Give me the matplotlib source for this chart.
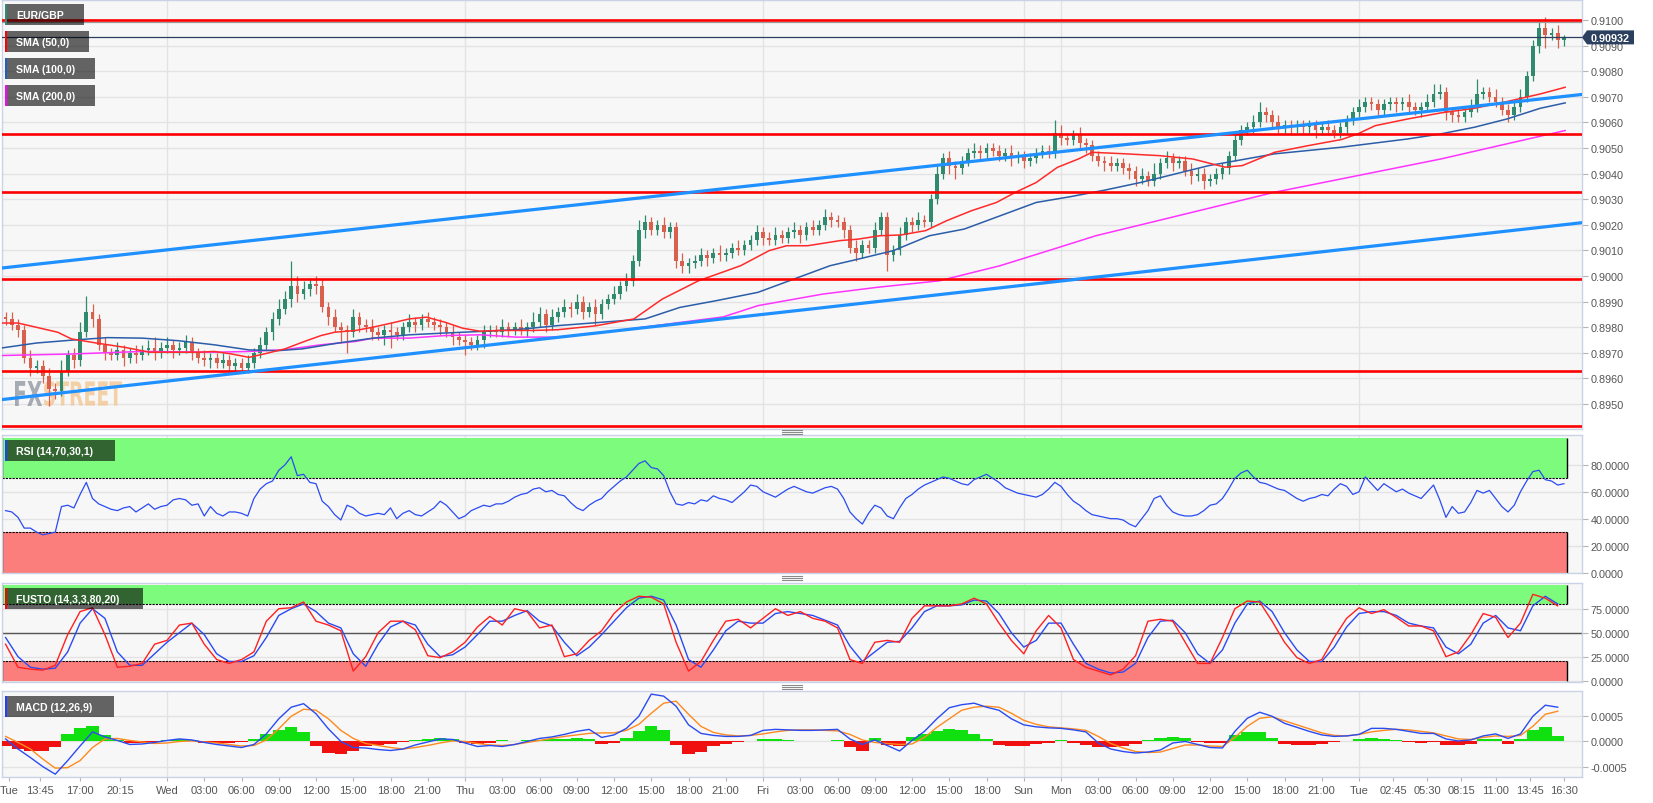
"""
EUR/GBP 15m style chart with SMA, RSI, FUSTO and MACD panels
"""
import matplotlib
matplotlib.use("Agg")
import matplotlib.pyplot as plt
from matplotlib.patches import Rectangle, Polygon, PathPatch
from matplotlib.textpath import TextPath
from matplotlib.font_manager import FontProperties
from matplotlib.transforms import Affine2D
import numpy as np

plt.rcParams["font.family"] = ["Liberation Sans", "DejaVu Sans"]
plt.rcParams["axes.unicode_minus"] = False

W, H = 1653, 804
PX_PER_H = 12.417          # pixels per trading hour
X_OF_T0 = -131             # pixel x of t = 0 (Tue 00:00)
T_LEFT = (2 - X_OF_T0) / PX_PER_H
T_RIGHT = (1582 - X_OF_T0) / PX_PER_H

# ============================================================
# data  (t = trading hours since first Tue 00:00, weekend squeezed)
# ============================================================
# 30-min candles from t = 11.0, prices in pips above 0.8900
first_open = 84
closes = [83, 81, 79, 68, 64, 65, 61, 56, 55, 63,
          69, 67, 78, 86, 83, 73, 70, 69, 71, 68,
          70, 69, 71, 72, 70, 72, 73, 71, 72, 74,
          70, 68, 67, 68, 66, 67, 65, 66, 64, 66,
          70, 73, 78, 83, 87, 91, 96, 93, 95, 97,
          96, 88, 84, 80, 79, 78, 84, 81, 80, 78,
          77, 79, 78, 77, 80, 82, 81, 83, 82, 81,
          80, 78, 76, 75, 74, 73, 75, 78, 79, 78,
          80, 79, 80, 79, 80, 82, 85, 81, 84, 86,
          88, 87, 90, 86, 88, 85, 89, 91, 93, 96,
          98, 106, 118, 121, 118, 120, 117, 119, 106, 104,
          105, 106, 108, 107, 109, 108, 109, 111, 110, 112,
          114, 117, 115, 114, 116, 115, 117, 118, 116, 119,
          118, 120, 123, 122, 121, 118, 111, 109, 112, 111,
          118, 123, 108, 110, 116, 121, 120, 122, 121, 130,
          140, 146, 143, 142, 145, 148, 149, 148, 150, 149,
          147, 148, 146, 147, 145, 146, 148, 149, 148, 156,
          154, 153, 155, 152, 151, 147, 145, 144, 143, 144,
          142, 141, 138, 139, 137, 140, 144, 146, 144, 145,
          141, 139, 140, 137, 138, 140, 142, 147, 153, 157,
          158, 160, 164, 163, 160, 158, 159, 158, 159, 158,
          159, 157, 158, 157, 156, 158, 161, 164, 166, 168,
          167, 165, 167, 168, 167, 168, 166, 165, 166, 168,
          171, 172, 164, 163, 162, 164, 166, 171, 172, 170,
          168, 165, 163, 166, 170, 178, 190, 197, 194, 195,
          192, 193.2]
wick_up = [2, 3, 2, 2, 3, 2, 2, 3, 2, 4,
           2, 3, 4, 6, 3, 2, 3, 2, 3, 2,
           2, 3, 2, 3, 4, 2, 3, 2, 2, 3,
           2, 2, 3, 2, 2, 3, 2, 2, 2, 3,
           2, 3, 2, 3, 4, 3, 10, 4, 3, 2,
           3, 3, 2, 3, 2, 2, 3, 2, 2, 3,
           2, 2, 3, 2, 2, 3, 2, 2, 3, 2,
           2, 2, 3, 2, 2, 2, 2, 3, 2, 2,
           3, 2, 2, 3, 2, 4, 3, 2, 3, 2,
           3, 2, 3, 2, 2, 3, 2, 2, 3, 2,
           3, 2, 4, 3, 2, 2, 3, 2, 2, 3,
           2, 2, 3, 2, 2, 3, 2, 2, 3, 2,
           2, 3, 2, 2, 3, 2, 2, 3, 2, 2,
           3, 2, 3, 2, 2, 2, 2, 3, 2, 2,
           3, 2, 2, 2, 3, 2, 2, 3, 2, 2,
           3, 2, 3, 2, 2, 2, 3, 2, 2, 2,
           2, 2, 3, 2, 2, 2, 2, 2, 2, 5,
           3, 2, 2, 3, 2, 2, 2, 2, 3, 2,
           2, 2, 2, 3, 2, 4, 2, 3, 2, 2,
           2, 3, 2, 2, 2, 2, 2, 2, 3, 2,
           2, 3, 4, 2, 2, 3, 2, 2, 2, 2,
           2, 2, 2, 3, 2, 2, 2, 2, 3, 2,
           2, 2, 2, 2, 2, 2, 3, 2, 2, 3,
           4, 3, 2, 2, 3, 2, 3, 6, 2, 2,
           3, 2, 2, 2, 3, 2, 2, 3, 4, 2,
           3, 1]
wick_dn = [2, 2, 3, 2, 3, 2, 3, 7, 3, 2,
           2, 3, 2, 2, 3, 2, 3, 2, 2, 3,
           2, 3, 2, 2, 3, 2, 2, 3, 2, 2,
           3, 2, 2, 3, 2, 2, 3, 2, 2, 2,
           2, 2, 2, 3, 2, 2, 3, 3, 2, 3,
           3, 2, 3, 2, 5, 8, 2, 3, 2, 3,
           2, 4, 6, 2, 2, 2, 3, 2, 2, 2,
           3, 2, 3, 2, 5, 2, 2, 3, 2, 2,
           2, 3, 2, 2, 3, 2, 2, 3, 2, 2,
           2, 3, 2, 3, 2, 4, 2, 2, 2, 2,
           2, 2, 2, 3, 2, 2, 2, 2, 3, 3,
           3, 2, 2, 3, 2, 2, 2, 2, 2, 2,
           2, 2, 3, 2, 2, 2, 2, 2, 3, 2,
           2, 2, 2, 3, 2, 3, 2, 3, 2, 2,
           2, 2, 6, 2, 2, 2, 3, 2, 2, 2,
           2, 2, 3, 4, 2, 2, 2, 3, 2, 2,
           2, 2, 3, 2, 3, 2, 2, 2, 2, 2,
           3, 2, 2, 2, 3, 2, 2, 3, 2, 2,
           2, 3, 3, 2, 2, 2, 2, 2, 3, 2,
           2, 3, 2, 3, 2, 2, 2, 2, 2, 2,
           2, 2, 2, 3, 2, 2, 2, 3, 2, 2,
           2, 3, 2, 2, 2, 2, 2, 2, 2, 2,
           2, 2, 2, 2, 3, 2, 2, 2, 3, 2,
           2, 2, 3, 3, 2, 2, 2, 2, 2, 2,
           2, 2, 3, 2, 2, 2, 2, 3, 5, 2,
           3, 2]
last_price = 0.90932
session_high = 0.90991

# moving averages (pips above 0.8900), sampled along the curve
sma50_t = [10.6, 12.0, 15.2, 16.3, 18.3, 20.6, 22.6, 24.3, 26.6, 27.8, 29.2, 30.6,
           31.8, 33.5, 34.9, 36.4, 37.5, 39.2, 40.6, 42.1, 43.5, 44.9, 46.4, 47.8,
           49.2, 50.7, 53.5, 55.5, 58.5, 61.6, 63.9, 66.8, 70.2, 72.5, 73.9, 75.6,
           78.2, 79.7, 81.4, 83.1, 85.1, 86.8, 88.8, 90.8, 92.3, 94.0, 95.7, 97.4,
           98.5, 101.2, 103.9, 106.6, 109.2, 110.6, 113.2, 115.9, 118.6, 119.9,
           121.3, 123.9, 126.6, 129.3, 131.9, 134.6, 136.6]
sma50_v = [81.6, 81.6, 78, 75.4, 73.8, 72.1, 70.2, 70.2, 70.2, 70.5, 69.5, 68.2,
           69.5, 71.5, 74.1, 76.7, 78, 78.7, 80, 81.6, 83.2, 83.9, 81.9, 79.6,
           78.4, 78.7, 78.7, 79, 80.5, 83.2, 91, 98.1, 104, 109.9, 111.8, 111.8,
           113.8, 114.4, 115.7, 116, 117.7, 121.6, 125.5, 128.7, 132.6, 136.5, 142.4, 145.7,
           148.3, 147.7, 147, 145.7, 142.5, 143.1, 148.3, 150.9, 153.3, 155.5,
           158.7, 161.3, 163.7, 165.5, 168.1, 171.1, 173.7]
sma100_t = [10.6, 13.5, 16.3, 19.2, 22.0, 24.9, 27.8, 30.6, 32.9, 34.9, 37.8, 40.6,
            43.5, 46.4, 49.2, 52.1, 55.5, 62.5, 65.3, 68.2, 71.6, 74.5, 77.4, 79.7,
            82.5, 85.4, 88.2, 91.1, 94.0, 96.8, 99.5, 102.5, 107.9, 113.2, 118.6,
            123.9, 126.6, 129.3, 131.9, 134.6, 136.6]
sma100_v = [71.8, 73.8, 74.9, 75.9, 75.7, 74.7, 73.1, 71.1, 70.8, 71.5, 73.8, 75.7,
            77, 77.7, 78.3, 79, 80.6, 83.2, 87.7, 90.3, 93.6, 98.8, 104, 106.6,
            109.9, 115.7, 118.3, 123.5, 128.7, 131, 133.5, 136.6, 143.1, 147.7, 150.3,
            153.5, 155.5, 158.1, 161.3, 165.5, 167.6]
sma200_t = [10.6, 16.3, 22.0, 27.8, 30.6, 33.5, 36.4, 39.2, 40.6, 43.5, 46.4, 49.2,
            52.1, 55.5, 60.0, 64.0, 68.8, 71.6, 76.8, 81.1, 86.2, 91.1, 95.4, 98.8,
            104.4, 113.2, 119.9, 126.6, 131.9, 136.6]
sma200_v = [68.9, 69.5, 70.5, 70.2, 70.5, 71.2, 73.1, 74.4, 75.7, 75.7, 76.7, 77,
            76.1, 76.1, 78.5, 81, 84, 88.4, 92.9, 95.5, 98.1, 104, 110.5, 115.7,
            122.3, 132.7, 139.2, 145.7, 151.6, 156.8]

# horizontal levels and trend channel
levels = [0.9100, 0.90556, 0.90327, 0.89988, 0.8963, 0.89415]
trend_t = [T_LEFT, T_RIGHT]
trend_upper = [0.90031, 0.90709]
trend_lower = [0.89517, 0.90208]

# RSI (14), same 30-min grid as the candles
rsi = [46, 45, 41, 33, 33, 30, 28, 29, 30, 49,
       50, 48, 58, 67, 55, 51, 49, 47, 46, 48,
       49, 45, 48, 51, 47, 49, 50, 54, 55, 54,
       50, 51, 42, 49, 44, 42, 45, 45, 44, 42,
       55, 62, 66, 68, 76, 80, 86, 72, 73, 67,
       66, 53, 49, 43, 39, 50, 48, 44, 42, 43,
       44, 43, 48, 40, 44, 46, 43, 42, 45, 48,
       53, 50, 45, 40, 42, 46, 48, 50, 49, 51,
       51, 53, 56, 58, 59, 62, 63, 60, 61, 58,
       57, 52, 48, 46, 50, 53, 55, 60, 64, 68,
       71, 76, 81, 83, 78, 77, 72, 60, 51, 50,
       52, 51, 54, 53, 57, 55, 54, 52, 56, 60,
       65, 64, 60, 58, 56, 59, 62, 64, 62, 60,
       59, 61, 63, 64, 62, 55, 45, 40, 36, 44,
       50, 48, 42, 40, 48, 55, 58, 62, 65, 67,
       69, 71, 70, 68, 66, 65, 69, 71, 73, 70,
       67, 63, 61, 59, 58, 57, 56, 58, 62, 67,
       64, 58, 53, 50, 46, 43, 42, 41, 40, 40,
       39, 36, 34, 40, 46, 55, 57, 50, 45, 43,
       42, 42, 43, 46, 50, 51, 55, 62, 70, 74,
       76, 71, 67, 66, 64, 62, 61, 58, 55, 53,
       55, 56, 58, 57, 62, 66, 64, 58, 60, 71,
       66, 61, 66, 63, 60, 62, 59, 57, 55, 60,
       65, 54, 41, 49, 44, 45, 52, 61, 59, 61,
       55, 49, 45, 50, 60, 68, 75, 76, 69, 68,
       65, 66]

# hourly indicator readings, t = 11 ... 136
fusto_k = [38, 14, 12, 11, 16, 48, 72, 76, 48, 14,
           15, 18, 38, 42, 58, 60, 38, 22, 18, 22,
           30, 62, 75, 76, 82, 62, 58, 52, 10, 25,
           50, 62, 62, 53, 26, 24, 30, 40, 56, 67,
           58, 75, 72, 55, 58, 25, 28, 42, 52, 70,
           82, 88, 87, 80, 40, 10, 20, 42, 62, 64,
           55, 65, 75, 68, 72, 65, 62, 55, 22, 18,
           40, 42, 40, 65, 78, 78, 78, 80, 86, 80,
           60, 42, 28, 52, 68, 55, 22, 14, 10, 6,
           12, 26, 62, 64, 62, 40, 18, 18, 45, 75,
           83, 82, 62, 40, 24, 18, 22, 45, 65, 76,
           70, 74, 66, 57, 57, 52, 25, 30, 48, 70,
           66, 45, 60, 90, 86, 78]
fusto_d = [45, 25, 14, 12, 13, 30, 60, 75, 65, 30,
           16, 16, 28, 40, 50, 60, 48, 28, 20, 20,
           26, 45, 68, 75, 80, 72, 60, 55, 28, 15,
           38, 56, 62, 58, 38, 25, 27, 35, 48, 62,
           62, 68, 73, 62, 57, 40, 26, 35, 48, 62,
           76, 86, 88, 84, 58, 22, 14, 32, 52, 62,
           60, 60, 70, 72, 70, 68, 63, 58, 36, 20,
           30, 40, 41, 55, 72, 78, 78, 79, 84, 83,
           70, 50, 35, 42, 60, 60, 38, 18, 12, 8,
           9, 18, 45, 62, 63, 50, 28, 18, 32, 60,
           80, 83, 72, 50, 32, 20, 20, 35, 56, 70,
           72, 72, 68, 60, 57, 55, 35, 28, 38, 60,
           68, 55, 52, 78, 88, 80]
# MACD values in units of 1e-4
macd = [0.5, -1.5, -3.2, -5.0, -6.5, -3.8, -0.9, 1.9, 0.9, 0.2,
        -0.6, -0.5, -0.2, 0.2, 0.5, 0.3, -0.2, -0.6, -0.9, -1.2,
        -0.6, 1.5, 4.5, 6.8, 7.5, 5.5, 2.5, 0.0, -1.2, -1.3,
        -1.6, -1.8, -1.5, -0.7, -0.1, 0.5, 0.4, -0.3, -1.0, -0.8,
        -1.0, -0.6, 0.0, 0.6, 0.9, 1.4, 2.0, 2.4, 0.8, 1.3,
        2.6, 5.0, 9.4, 9.0, 7.0, 3.3, 1.6, 1.2, 1.0, 1.0,
        1.2, 2.2, 2.4, 2.3, 2.2, 2.2, 2.3, 2.4, 0.5, -0.6,
        0.3, -0.8, -1.9, 0.2, 2.0, 4.5, 6.7, 7.3, 7.6, 6.8,
        6.2, 4.5, 3.3, 2.9, 2.7, 2.6, 2.3, 1.9, -0.3, -1.5,
        -2.0, -2.3, -2.1, -1.7, -0.3, 0.0, -0.6, -1.2, -1.3, 2.0,
        4.6, 5.8, 5.0, 3.6, 2.8, 2.0, 1.3, 1.0, 1.1, 1.4,
        2.6, 2.6, 2.4, 2.0, 1.6, 1.6, 0.5, 0.1, 0.3, 1.1,
        1.5, 0.6, 1.5, 5.0, 7.2, 6.8]
signal = [1.0, -0.2, -1.5, -3.5, -5.3, -5.2, -3.8, -1.2, 0.5, 0.6,
          0.2, -0.1, -0.4, -0.3, 0.0, 0.1, -0.1, -0.3, -0.6, -0.9,
          -0.8, 0.3, 2.5, 5.0, 6.4, 6.2, 4.5, 2.2, 0.6, -0.4,
          -0.8, -1.2, -1.5, -1.2, -0.8, -0.3, 0.1, 0.0, -0.4, -0.7,
          -0.8, -0.6, -0.2, 0.2, 0.6, 1.0, 1.3, 1.6, 1.7, 1.7,
          2.2, 3.4, 5.6, 7.6, 8.0, 5.4, 3.0, 1.8, 1.3, 1.1,
          1.2, 1.5, 1.9, 2.2, 2.3, 2.3, 2.2, 2.1, 1.4, 0.3,
          -0.2, -0.4, -0.6, -0.5, 0.8, 2.8, 4.5, 6.2, 6.8, 7.0,
          6.8, 5.6, 4.2, 3.4, 2.9, 2.7, 2.5, 2.2, 1.0, -0.4,
          -1.3, -2.0, -2.2, -2.1, -1.4, -0.7, -0.7, -0.9, -1.0, 0.8,
          3.0, 4.6, 4.9, 4.1, 3.3, 2.5, 1.7, 1.2, 1.1, 1.4,
          1.9, 2.2, 2.4, 2.3, 2.0, 1.7, 1.1, 0.5, 0.4, 0.8,
          1.1, 1.0, 1.2, 3.0, 5.4, 6.0]
hist = [-0.9, -1.5, -1.9, -1.8, -1.2, 1.5, 2.6, 3.0, 1.2, 0.3,
        -0.3, -0.4, -0.2, 0.3, 0.4, 0.2, -0.3, -0.4, -0.4, -0.2,
        0.5, 1.5, 2.3, 2.8, 1.8, -0.9, -2.2, -2.5, -1.8, -0.9,
        -0.7, -0.6, -0.2, 0.3, 0.5, 0.6, 0.4, -0.4, -0.6, -0.3,
        0.2, 0.1, 0.2, 0.3, 0.4, 0.5, 0.6, 0.5, -0.5, -0.3,
        0.6, 2.0, 3.0, 2.2, -0.8, -2.4, -2.0, -1.0, -0.5, -0.2,
        0.0, 0.4, 0.5, 0.3, 0.1, 0.0, 0.1, 0.2, -1.2, -1.8,
        0.6, -0.8, -1.0, 0.8, 1.5, 2.0, 2.4, 2.2, 1.4, 0.5,
        -0.8, -1.0, -1.0, -0.6, -0.3, 0.2, -0.3, -0.8, -1.2, -1.2,
        -0.9, -0.5, 0.3, 0.6, 0.8, 0.6, -0.2, -0.3, -0.3, 1.2,
        1.9, 1.8, 0.6, -0.6, -0.7, -0.7, -0.5, -0.2, 0.1, 0.5,
        0.7, 0.5, 0.2, -0.2, -0.3, -0.1, -0.7, -0.8, -0.5, 0.4,
        0.5, -0.5, 0.5, 2.2, 2.8, 1.0]

# x axis labels
tick_t = [11.3, 13.75, 17, 20.25, 24, 27, 30, 33, 36, 39, 42, 45, 48, 51, 54, 57,
          60, 63, 66, 69, 72, 75, 78, 81, 84, 87, 90, 93, 96, 99, 102, 105, 108,
          111, 114, 117, 120, 122.75, 125.5, 128.25, 131, 133.75, 136.5]
tick_lab = ["Tue", "13:45", "17:00", "20:15", "Wed", "03:00", "06:00", "09:00",
            "12:00", "15:00", "18:00", "21:00", "Thu", "03:00", "06:00", "09:00",
            "12:00", "15:00", "18:00", "21:00", "Fri", "03:00", "06:00", "09:00",
            "12:00", "15:00", "18:00", "Sun", "Mon", "03:00", "06:00", "09:00",
            "12:00", "15:00", "18:00", "21:00", "Tue", "02:45", "05:30", "08:15",
            "11:00", "13:45", "16:30"]
day_t = [24, 48, 72, 93, 96, 120]

# ============================================================
# figure
# ============================================================
GREEN_C, RED_C = "#2F8A6E", "#D8604D"
GRID = "#E3E3E3"

fig = plt.figure(figsize=(W / 100, H / 100), dpi=100)
fig.patch.set_facecolor("white")


def panel(top, bottom):
    return fig.add_axes([2 / W, 1 - bottom / H, 1580 / W, (bottom - top) / H])


def style(ax, yticks, fmt, ylim):
    ax.set_facecolor("#F7F7F7")
    for s in ax.spines.values():
        s.set_color("#C9D2E6")
        s.set_linewidth(1)
    ax.set_xlim(T_LEFT, T_RIGHT)
    ax.set_ylim(*ylim)
    ax.yaxis.tick_right()
    ax.set_yticks(yticks)
    ax.set_yticklabels([fmt % v for v in yticks])
    ax.tick_params(axis="y", length=4, width=0.8, color="#B5B5B5",
                   labelcolor="#555555", labelsize=7.8, pad=2)
    for v in yticks:
        ax.axhline(v, color=GRID, lw=1, zorder=0)
    for d in day_t:
        ax.axvline(d, color=GRID, lw=1, zorder=0)
    ax.set_xticks(tick_t)
    ax.tick_params(axis="x", length=0, labelbottom=False)


# ---------------- main price panel ----------------
ax = panel(1, 430)
style(ax, np.round(np.arange(0.8950, 0.91001, 0.001), 4), "%.4f", (0.89402, 0.91078))

cl = np.array(closes, dtype=float)
op = np.r_[first_open, cl[:-1]]
t_c = 11.0 + 0.5 * np.arange(len(cl))
o = 0.89 + op / 1e4
c = 0.89 + cl / 1e4
hi = np.maximum(o, c) + np.array(wick_up) / 1e4
lo = np.minimum(o, c) - np.array(wick_dn) / 1e4
col = np.where(c >= o, GREEN_C, RED_C)
ax.vlines(t_c, lo, hi, colors=col, lw=0.9, zorder=3)
ax.bar(t_c, np.maximum(np.abs(c - o), 0.00002), bottom=np.minimum(o, c),
       width=0.3, color=col, linewidth=0, zorder=4)

ax.plot(sma200_t, 0.89 + np.array(sma200_v) / 1e4, color="#FF33FF", lw=1.1, zorder=5)
ax.plot(sma100_t, 0.89 + np.array(sma100_v) / 1e4, color="#2B5DA8", lw=1.1, zorder=5)
ax.plot(sma50_t, 0.89 + np.array(sma50_v) / 1e4, color="#FF2A2A", lw=1.1, zorder=5)

for lv in levels:
    ax.axhline(lv, color="#FF0000", lw=1.9, zorder=6)
ax.plot(trend_t, trend_upper, color="#1E90FF", lw=2.3, zorder=6)
ax.plot(trend_t, trend_lower, color="#1E90FF", lw=2.3, zorder=6)
ax.axhline(session_high, color="#9A9A9A", lw=0.9, zorder=5)
ax.axhline(last_price, color="#2B3F5E", lw=0.9, zorder=6)

# ---------------- RSI ----------------
zone_end = t_c[-1] + 0.25
ax_rsi = panel(436, 573.5)
style(ax_rsi, [0, 20, 40, 60, 80], "%.4f", (0, 102.2))
ax_rsi.add_patch(Rectangle((T_LEFT, 70), zone_end - T_LEFT, 30, facecolor="#7DFB7D", lw=0, zorder=1))
ax_rsi.add_patch(Rectangle((T_LEFT, 0), zone_end - T_LEFT, 30, facecolor="#FC7E7C", lw=0, zorder=1))
ax_rsi.hlines([70, 30], T_LEFT, zone_end, colors="black", lw=0.8, linestyles=(0, (2, 1)), zorder=2)
ax_rsi.vlines([T_LEFT, zone_end], 70, 100, colors="black", lw=1, zorder=2)
ax_rsi.vlines([T_LEFT, zone_end], 0, 30, colors="black", lw=1, zorder=2)
ax_rsi.plot(t_c, rsi, color="#2A4BF2", lw=0.9, zorder=5)

# ---------------- FUSTO ----------------
t_h = 11 + np.arange(len(macd))
ax_st = panel(584.3, 683.3)
style(ax_st, [0, 25, 50, 75], "%.4f", (-1.7, 101.5))
ax_st.add_patch(Rectangle((T_LEFT, 80), zone_end - T_LEFT, 20, facecolor="#7DFB7D", lw=0, zorder=1))
ax_st.add_patch(Rectangle((T_LEFT, 0), zone_end - T_LEFT, 20, facecolor="#FC7E7C", lw=0, zorder=1))
ax_st.hlines([80, 20], T_LEFT, zone_end, colors="black", lw=0.8, linestyles=(0, (2, 1)), zorder=2)
ax_st.vlines([T_LEFT, zone_end], 80, 100, colors="black", lw=1, zorder=2)
ax_st.vlines([T_LEFT, zone_end], 0, 20, colors="black", lw=1, zorder=2)
ax_st.axhline(50, color="#555555", lw=1, zorder=2)
ax_st.plot(t_h, fusto_d, color="#2A4BF2", lw=1, zorder=5)
ax_st.plot(t_h, fusto_k, color="#FF2020", lw=1, zorder=5)

# ---------------- MACD ----------------
ax_m = panel(692.3, 777.7)
style(ax_m, [-0.0005, 0.0, 0.0005], "%.4f", (-0.0007, 0.000996))
hv = np.array(hist) / 1e4
ax_m.bar(t_h, hv, width=1.0, color=np.where(hv >= 0, "#10E010", "#F01010"), linewidth=0, zorder=3)
ax_m.plot(t_h, np.array(signal) / 1e4, color="#FF8A1E", lw=1, zorder=4)
ax_m.plot(t_h, np.array(macd) / 1e4, color="#2A4BF2", lw=1, zorder=5)
ax_m.set_xticklabels(tick_lab)
ax_m.tick_params(axis="x", length=3, width=0.8, color="#B5B5B5", labelbottom=True,
                 labelcolor="#555555", labelsize=8, pad=3)

# ---------------- overlay decorations (pixel coords) ----------------
ov = fig.add_axes([0, 0, 1, 1], zorder=10)
ov.set_xlim(0, W)
ov.set_ylim(H, 0)
ov.axis("off")
ov.patch.set_alpha(0)


def tag(y0, x1, text, strip):
    ov.add_patch(Rectangle((5, y0), x1 - 5, 21, facecolor="black", alpha=0.6, lw=0))
    ov.add_patch(Rectangle((5, y0), 2.2, 21, facecolor=strip, lw=0))
    ov.text(16, y0 + 11, text, color="white", fontsize=7.6, fontweight="bold",
            va="center", ha="left")


tag(5, 84, "EUR/GBP", "#2E8B73")
tag(32, 89, "SMA (50,0)", "#FF0000")
tag(59, 95, "SMA (100,0)", "#1F5FBF")
tag(86, 95, "SMA (200,0)", "#FF00FF")
tag(441, 115, "RSI (14,70,30,1)", "#2040FF")
tag(589, 143, "FUSTO (14,3,3,80,20)", "#FF0000")
tag(697, 114, "MACD (12,26,9)", "#2040FF")

# last price tag
py = H - ax.transData.transform((T_LEFT, last_price))[1]
ov.add_patch(Polygon([(1582, py), (1587, py - 7), (1634, py - 7), (1634, py + 7), (1587, py + 7)],
                     closed=True, facecolor="#2B3F5E", lw=0))
ov.text(1610.5, py + 0.5, "%.5f" % last_price, color="white", fontsize=7.8, fontweight="bold",
        ha="center", va="center")

# pane resize handles
for yh in (433, 578.9, 687.8):
    for dy in (-2, 0, 2):
        ov.plot([782, 802], [yh + dy, yh + dy], color="#8A8A8A", lw=0.8)


# FXSTREET watermark, squeezed into its box
def squeeze_text(s, x0, x1, y0, y1, color):
    tp = TextPath((0, 0), s, size=10, prop=FontProperties(family="DejaVu Sans", weight="bold"))
    ext = tp.get_extents()
    tr = Affine2D().translate(-ext.x0, -ext.y0).scale((x1 - x0) / ext.width, -(y1 - y0) / ext.height)
    tr = tr.translate(x0, y1)
    ax.add_patch(PathPatch(tr.transform_path(tp), facecolor=color, lw=0, alpha=0.75,
                           transform=ov.transData, zorder=2))


squeeze_text("FX", 15, 42, 382, 407, "#8C929C")
squeeze_text("STREET", 44, 122, 382, 407, "#F3C38C")

fig.savefig("out.png", dpi=100)
print("[OK] out.png")
